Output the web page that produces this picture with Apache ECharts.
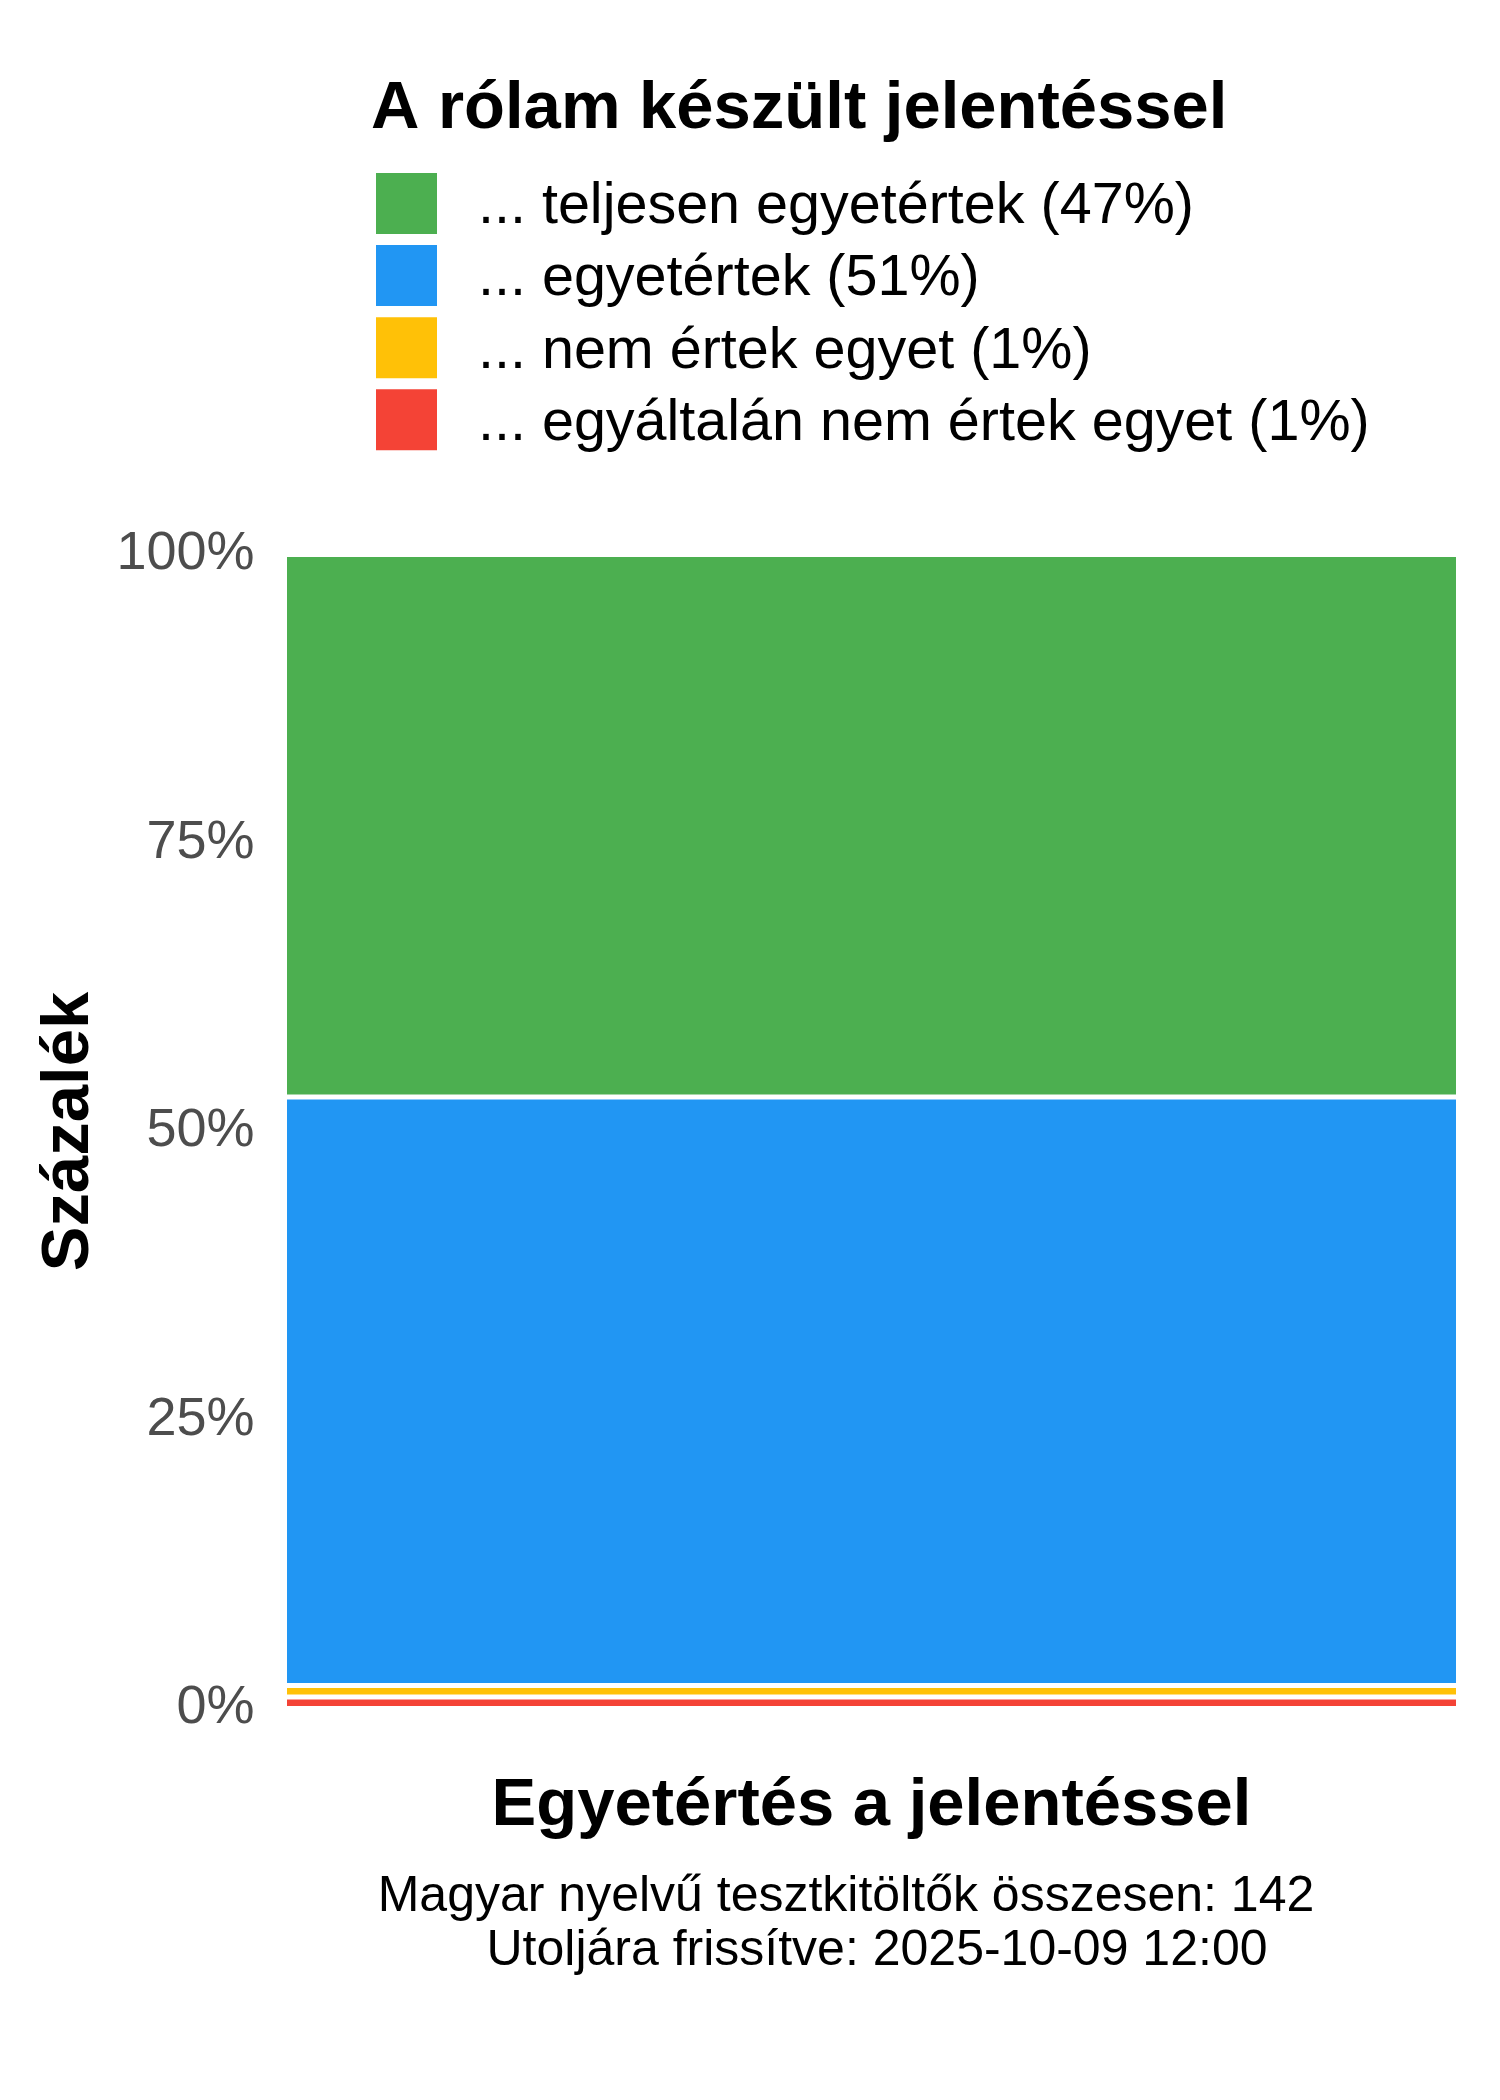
<!DOCTYPE html>
<html>
<head>
<meta charset="utf-8">
<script src="https://cdn.jsdelivr.net/npm/echarts@6/dist/echarts.min.js"></script>
<style>
  html, body { margin: 0; padding: 0; background: #fff; }
  #main { width: 1500px; height: 2100px; }
</style>
</head>
<body>
<div id="main"></div>
<script>
// data (percent of respondents)
var categories = ['Egyetértés'];
var seriesNames = [
  '... egyáltalán nem értek egyet (1%)',
  '... nem értek egyet (1%)',
  '... egyetértek (51%)',
  '... teljesen egyetértek (47%)'
];
var seriesValues = [
  [1],
  [1],
  [51],
  [47]
];
var colors = ['#F44336', '#FFC107', '#2196F3', '#4CAF50'];
var legendOrder = [seriesNames[3], seriesNames[2], seriesNames[1], seriesNames[0]];
var yTicks = [0, 25, 50, 75, 100];

var font = '"Liberation Sans", Arial, sans-serif';
var myChart = echarts.init(document.getElementById('main'));
var option;

var series = [];
for (var i = 0; i < seriesNames.length; i++) {
  series.push({
    name: seriesNames[i],
    type: 'bar',
    stack: 'total',
    barWidth: '100%',
    barCategoryGap: 0,
    // echarts keeps the stroke inside the rect, so 2.5 gives a 5px white gap
    itemStyle: { color: colors[i], borderColor: '#fff', borderWidth: 2.5 },
    data: seriesValues[i]
  });
}

option = {
  animation: false,
  backgroundColor: '#fff',
  color: colors,
  textStyle: { fontFamily: font },
  title: {
    text: 'A rólam készült jelentéssel',
    left: 371,
    top: 76,
    padding: 0,
    textStyle: { fontFamily: font, fontSize: 67, fontWeight: 'bold', color: '#000' }
  },
  legend: {
    data: legendOrder,
    orient: 'vertical',
    left: 376,
    top: 173,
    padding: 0,
    itemWidth: 61,
    itemHeight: 61,
    itemGap: 8.6,
    icon: 'rect',
    itemStyle: { borderWidth: 0 },
    formatter: function (name) {
      return '{a|' + name + '}';
    },
    textStyle: {
      fontFamily: font, fontSize: 57.5, color: '#000',
      rich: {
        a: { fontFamily: font, fontSize: 57.5, color: '#000', padding: [8, 0, 0, 36] }
      }
    }
  },
  grid: {
    left: 284.5,
    right: 41.5,
    top: 554.5,
    bottom: 391.5,
    containLabel: false
  },
  xAxis: {
    type: 'category',
    data: categories,
    name: 'Egyetértés a jelentéssel',
    nameLocation: 'middle',
    nameGap: 65,
    nameTextStyle: { fontFamily: font, fontSize: 67, fontWeight: 'bold', color: '#000' },
    axisLine: { show: false },
    axisTick: { show: false },
    axisLabel: { show: false }
  },
  yAxis: {
    type: 'value',
    min: yTicks[0],
    max: yTicks[yTicks.length - 1],
    interval: 25,
    name: 'Százalék',
    nameLocation: 'middle',
    nameRotate: 90,
    nameGap: 181,
    nameTextStyle: { fontFamily: font, fontSize: 67, fontWeight: 'bold', color: '#000' },
    axisLine: { show: false },
    axisTick: { show: false },
    splitLine: { show: false },
    axisLabel: {
      margin: 30,
      fontFamily: font,
      fontSize: 54,
      color: '#4d4d4d',
      formatter: '{value}%'
    }
  },
  graphic: [
    {
      type: 'text',
      style: {
        x: 846, y: 1922,
        text: 'Magyar nyelvű tesztkitöltők összesen: 142',
        font: '50px ' + font,
        fill: '#000',
        textAlign: 'center',
        textVerticalAlign: 'bottom'
      }
    },
    {
      type: 'text',
      style: {
        x: 877, y: 1976,
        text: 'Utoljára frissítve: 2025-10-09 12:00',
        font: '50px ' + font,
        fill: '#000',
        textAlign: 'center',
        textVerticalAlign: 'bottom'
      }
    }
  ],
  series: series
};

option && myChart.setOption(option);
</script>
</body>
</html>
